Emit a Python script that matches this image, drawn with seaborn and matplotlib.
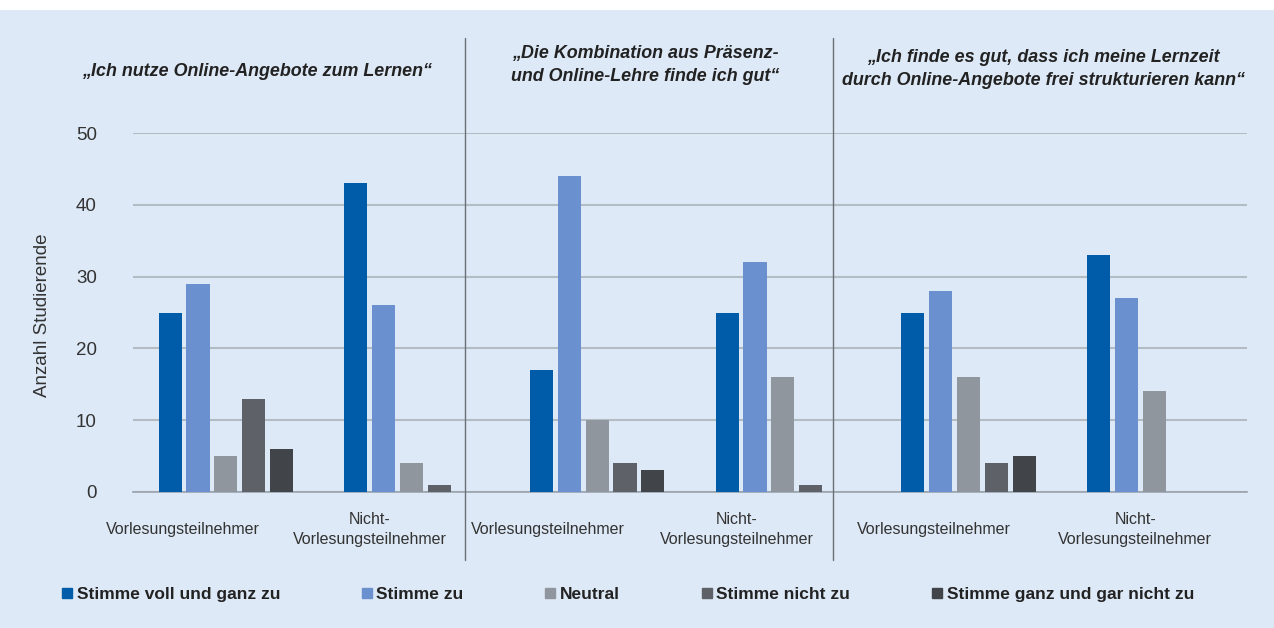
import matplotlib
matplotlib.use("Agg")
import matplotlib.pyplot as plt
import matplotlib.transforms as mtransforms
from matplotlib.lines import Line2D
from matplotlib.patches import Rectangle
import seaborn as sns
import pandas as pd

# ---- data ----
groups = ["Vorlesungsteilnehmer", "Nicht-\nVorlesungsteilnehmer"]
panel_titles = [
    "„Ich nutze Online-Angebote zum Lernen“",
    "„Die Kombination aus Präsenz-\nund Online-Lehre finde ich gut“",
    "„Ich finde es gut, dass ich meine Lernzeit\ndurch Online-Angebote frei strukturieren kann“",
]
responses = ["Stimme voll und ganz zu", "Stimme zu", "Neutral",
             "Stimme nicht zu", "Stimme ganz und gar nicht zu"]
p1_vorl = [25, 29, 5, 13, 6]
p1_nicht = [43, 26, 4, 1, 0]
p2_vorl = [17, 44, 10, 4, 3]
p2_nicht = [25, 32, 16, 1, 0]
p3_vorl = [25, 28, 16, 4, 5]
p3_nicht = [33, 27, 14, 0, 0]
yticks = [0, 10, 20, 30, 40, 50]

series = [p1_vorl, p1_nicht, p2_vorl, p2_nicht, p3_vorl, p3_nicht]
cat_ids = [f"c{i}" for i in range(len(series))]
cat_labels = groups * 3
rows = []
for cid, vals in zip(cat_ids, series):
    for r, v in zip(responses, vals):
        rows.append({"cat": cid, "resp": r, "val": v})
df = pd.DataFrame(rows)

colors = ["#005ca9", "#6b90cf", "#8f969d", "#5e6167", "#414448"]
bg = "#dde9f6"
W, H = 1274, 628

sns.set_theme(style="white")
plt.rcParams["font.family"] = ["Liberation Sans", "DejaVu Sans"]

fig = plt.figure(figsize=(W / 100, H / 100), dpi=100, facecolor=bg)
fig.add_artist(Rectangle((0, 1 - 10 / H), 1, 10 / H, transform=fig.transFigure,
                         facecolor="white", edgecolor="none", zorder=0))
ax = fig.add_axes([133 / W, (H - 492) / H, (1247 - 133) / W, (492 - 133) / H])
ax.set_facecolor(bg)

sns.barplot(data=df, x="cat", y="val", hue="resp", order=cat_ids,
            hue_order=responses, palette=colors, width=0.75, gap=0.17,
            ax=ax, legend=False, saturation=1, zorder=3, linewidth=0,
            edgecolor="none")

ax.set_ylim(0, 50)
ax.set_xlim(-0.5, len(series) - 0.5)
ax.set_yticks(yticks)
ax.set_yticklabels([str(t) for t in yticks], fontsize=13.5, color="#333333")
ax.tick_params(axis="y", length=0, pad=26)
ax.yaxis.grid(True, color="#b3bbc4", linewidth=1.5, zorder=0)
ax.set_axisbelow(True)
for s in ["top", "right", "left"]:
    ax.spines[s].set_visible(False)
ax.spines["bottom"].set_color("#9aa3ad")
ax.spines["bottom"].set_linewidth(1.2)

ax.set_xticks(range(len(series)))
ax.set_xticklabels(cat_labels, fontsize=11.5, color="#333333", linespacing=1.45)
ax.tick_params(axis="x", length=0, pad=14)
ax.set_xticks([i - 0.5 for i in range(len(series) + 1)], minor=True)
ax.tick_params(axis="x", which="minor", length=5, color="#9aa3ad", width=1)
label_shift = [-43, -42, -49, -46, -35, -19]
for lab, dx in zip(ax.get_xticklabels(), label_shift):
    lab.set_transform(lab.get_transform() +
                      mtransforms.ScaledTranslation(dx / 100, -18 / 100, fig.dpi_scale_trans))
    lab.set_verticalalignment("center")
ax.set_xlabel("")
ax.set_ylabel("")

fig.text(43 / W, 1 - 315 / H, "Anzahl Studierende", rotation=90,
         ha="center", va="center", fontsize=13.5, color="#333333")

# panel titles
title_pos = [(257, 72), (645, 65), (1043, 69)]
for t, (x, y) in zip(panel_titles, title_pos):
    fig.text(x / W, 1 - y / H, t, ha="center", va="center", fontsize=12.9,
             fontweight="bold", fontstyle="italic", color="#222222",
             multialignment="center", linespacing=1.5)

# separators
for xs in [465, 833]:
    fig.add_artist(Line2D([xs / W, xs / W], [1 - 38 / H, 1 - 560 / H],
                          transform=fig.transFigure, color="#6b6f75", linewidth=1))

# legend
handles = [Line2D([0], [0], marker="s", linestyle="none", markersize=6.5,
                  markerfacecolor=c, markeredgecolor=c) for c in colors]
leg = fig.legend(handles, responses, loc="center", ncol=5,
                 bbox_to_anchor=(627 / W, 1 - 594 / H), frameon=False,
                 prop={"size": 12.5, "weight": "bold"}, handletextpad=0.15,
                 columnspacing=4.6, handlelength=0.8)
for txt in leg.get_texts():
    txt.set_color("#222222")

fig.savefig("out.png", dpi=100, facecolor=bg)
